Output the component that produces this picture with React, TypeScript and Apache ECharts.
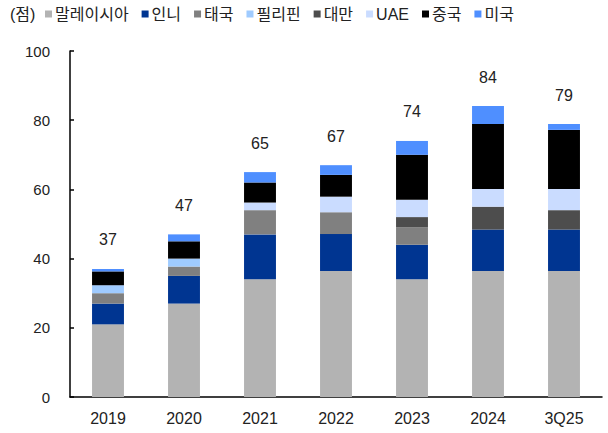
import React, { useEffect, useRef } from "react";
import * as echarts from "echarts";

const categories = ["2019", "2020", "2021", "2022", "2023", "2024", "3Q25"];
const malaysia = [21, 27, 34, 36.4, 34, 36.4, 36.4];
const indonesia = [6, 8, 13, 10.7, 10, 12, 12];
const thailand = [3, 2.7, 7, 6.3, 5, 0, 0];
const philippines = [2.3, 2.3, 0, 0, 0, 0, 0];
const taiwan = [0, 0, 0, 0, 3, 6.6, 5.6];
const uae = [0, 0, 2.2, 4.5, 5, 5.1, 6.1];
const china = [4, 5, 5.8, 6.3, 13, 18.8, 17.1];
const usa = [0.7, 2, 3, 2.8, 4, 5.2, 1.7];
const totals = [37, 47, 65, 67, 74, 84, 79];

const seriesDefs = [
  { name: "말레이시아", data: malaysia, color: "#b3b3b3" },
  { name: "인니", data: indonesia, color: "#003591" },
  { name: "태국", data: thailand, color: "#808080" },
  { name: "필리핀", data: philippines, color: "#9fcbff" },
  { name: "대만", data: taiwan, color: "#4d4d4d" },
  { name: "UAE", data: uae, color: "#cadcff" },
  { name: "중국", data: china, color: "#000000" },
  { name: "미국", data: usa, color: "#4f8fff" },
];

const FONT = "'Liberation Sans', 'Noto Sans CJK KR', sans-serif";

export default function App() {
  const ref = useRef<HTMLDivElement>(null);
  useEffect(() => {
    if (!ref.current) return;
    const chart = echarts.init(ref.current, null, { renderer: "svg" });
    const last = seriesDefs.length - 1;
    chart.setOption({
      animation: false,
      textStyle: { fontFamily: FONT },
      graphic: [
        {
          type: "text",
          left: 10,
          top: 6,
          style: { text: "(점)", fontSize: 16, fill: "#222", fontFamily: FONT },
        },
      ],
      legend: {
        left: 45,
        top: 6,
        padding: 0,
        itemWidth: 7,
        itemHeight: 7,
        itemGap: 13,
        icon: "rect",
        textStyle: { fontSize: 16, color: "#222", fontFamily: FONT, padding: [0, 0, 0, -2] },
        data: seriesDefs.map((s) => s.name),
      },
      grid: { left: 70, right: 6, top: 51, bottom: 36 },
      xAxis: {
        type: "category",
        data: categories,
        axisLine: { lineStyle: { color: "#000", width: 1.5 } },
        axisTick: { inside: true, length: 5, lineStyle: { color: "#000", width: 1.5 } },
        axisLabel: { fontSize: 16, color: "#222", margin: 13, fontFamily: FONT },
      },
      yAxis: {
        type: "value",
        min: 0,
        max: 100,
        interval: 20,
        splitLine: { show: false },
        axisLine: { show: true, lineStyle: { color: "#000", width: 1.5 } },
        axisTick: { show: true, inside: true, length: 4, lineStyle: { color: "#000", width: 1.5 } },
        axisLabel: { fontSize: 15, color: "#222", margin: 20, fontFamily: FONT },
      },
      series: seriesDefs.map((s, i) => ({
        name: s.name,
        type: "bar",
        stack: "total",
        barWidth: "42%",
        data: s.data,
        itemStyle: { color: s.color },
        label:
          i === last
            ? {
                show: true,
                position: "top",
                distance: 21,
                fontSize: 16,
                color: "#222",
                fontFamily: FONT,
                formatter: (p: any) => String(totals[p.dataIndex]),
              }
            : { show: false },
      })),
    });
    return () => chart.dispose();
  }, []);
  return (
    <div
      ref={ref}
      style={{ position: "absolute", left: 0, top: 0, width: 608, height: 433, background: "#fff" }}
    />
  );
}
